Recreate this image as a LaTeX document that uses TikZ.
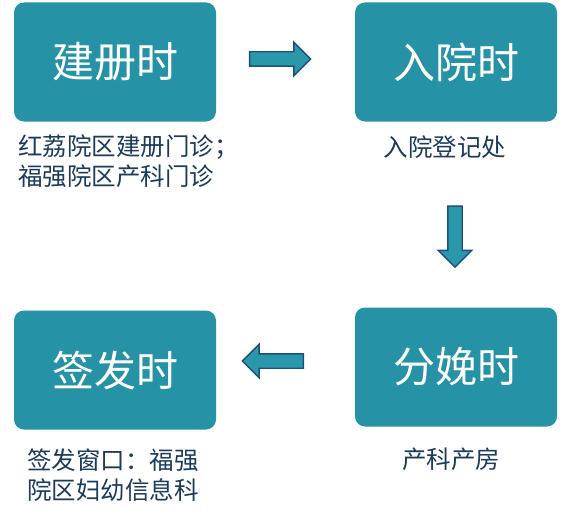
\documentclass[tikz,border=0pt]{standalone}
\usepackage{fontspec}
\usepackage{tikz}
\usetikzlibrary{shapes.arrows}
\setmainfont{Noto Sans CJK SC}
\definecolor{Teal}{HTML}{2592A6}
\definecolor{ArrowFill}{HTML}{2A98AB}
\definecolor{ArrowEdge}{HTML}{1C4F7C}
\definecolor{Ink}{HTML}{1B3A5C}

\begin{document}
\begin{tikzpicture}[x=1pt,y=-1pt,
  stage/.style={rectangle,rounded corners=10pt,fill=Teal,minimum width=202pt,minimum height=119pt,
    inner sep=0pt,text=white,font=\fontsize{42}{50}\selectfont},
  caption/.style={anchor=west,inner sep=0pt,align=left,text=Ink,font=\fontsize{24.5}{30}\selectfont},
  flow/.style={single arrow,single arrow head extend=9.5pt,minimum height=61pt,inner xsep=0pt,
    inner ysep=6.5pt,fill=ArrowFill,draw=ArrowEdge,line width=1.4pt}]
\useasboundingbox (0,0) rectangle (564,516);
% stages
\node[stage] (jiance) at (115,62) {建册时};
\node[stage] (ruyuan) at (456,62) {入院时};
\node[stage] (fenmian) at (456,367) {分娩时};
\node[stage] (qianfa) at (115,370) {签发时};
% captions
\node[caption] (jiancetxt) at (18,161) {红荔院区建册门诊；\\福强院区产科门诊};
\node[caption,anchor=center] (ruyuantxt) at (445,147) {入院登记处};
\node[caption,anchor=center] (fenmiantxt) at (451,459) {产科产房};
\node[caption] (qianfatxt) at (27,475) {签发窗口：福强\\院区妇幼信息科};
% arrows
\node[flow] (step1) at (276.5,59) {};
\node[flow,shape border rotate=270,inner xsep=6.5pt,inner ysep=0pt] (step2) at (455,233) {};
\node[flow,shape border rotate=180] (step3) at (276.5,361) {};
\end{tikzpicture}
\end{document}
